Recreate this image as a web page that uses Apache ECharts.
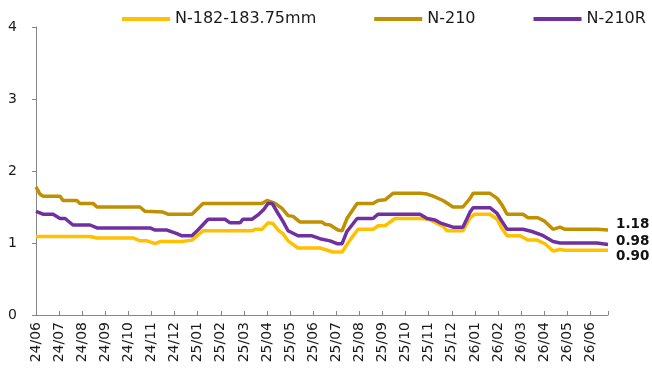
<!DOCTYPE html>
<html>
<head>
<meta charset="utf-8">
<script src="https://cdn.jsdelivr.net/npm/echarts@6/dist/echarts.min.js"></script>
<style>
  html, body { margin: 0; padding: 0; background: #fff; overflow: hidden; }
  #chart { width: 652px; height: 369px; }
</style>
</head>
<body>
<div id="chart"></div>
<script>
// Month tick labels (yy/MM), one per month starting June 2024
const tickLabels = [
  '24/06','24/07','24/08','24/09','24/10','24/11','24/12',
  '25/01','25/02','25/03','25/04','25/05','25/06','25/07','25/08','25/09','25/10','25/11','25/12',
  '26/01','26/02','26/03','26/04','26/05','26/06'
];

const seriesNames = ['N-182-183.75mm', 'N-210', 'N-210R'];
const seriesColors = ['#FFC000', '#BF9000', '#7030A0'];

// Price points: [months since 24/06, value]
const n182 = [
  [0,1.09],[2.34,1.09],[2.64,1.07],[4.20,1.07],[4.50,1.03],[4.81,1.03],[5.15,0.99],[5.37,1.02],
  [6.32,1.02],[6.75,1.04],[7.23,1.17],[9.35,1.17],[9.48,1.19],[9.78,1.19],[10.04,1.28],[10.26,1.27],
  [10.48,1.18],[10.69,1.13],[10.91,1.03],[11.34,0.93],[12.29,0.93],[12.51,0.91],[12.86,0.875],[13.25,0.875],
  [13.59,1.04],[13.94,1.19],[14.59,1.19],[14.81,1.24],[15.11,1.24],[15.54,1.34],[16.62,1.34],[17.0,1.33],
  [17.62,1.23],[17.79,1.17],[18.48,1.17],[18.79,1.35],[19.0,1.40],[19.65,1.40],[19.96,1.33],[20.17,1.20],
  [20.39,1.10],[20.95,1.10],[21.30,1.04],[21.69,1.04],[22.03,0.99],[22.38,0.89],[22.68,0.91],[22.90,0.90],
  [24.76,0.90]
];
const n210 = [
  [0,1.78],[0.17,1.68],[0.30,1.65],[1.04,1.65],[1.17,1.59],[1.77,1.59],[1.90,1.55],[2.47,1.55],
  [2.64,1.50],[4.50,1.50],[4.72,1.44],[5.50,1.43],[5.71,1.40],[6.75,1.40],[7.23,1.55],[9.78,1.55],
  [10.0,1.59],[10.35,1.55],[10.65,1.48],[10.91,1.38],[11.13,1.37],[11.43,1.29],[12.38,1.29],[12.51,1.26],
  [12.73,1.25],[13.07,1.18],[13.25,1.17],[13.46,1.34],[13.90,1.55],[14.59,1.55],[14.81,1.59],[15.11,1.60],
  [15.45,1.69],[16.62,1.69],[16.93,1.68],[17.19,1.65],[17.62,1.59],[18.05,1.50],[18.48,1.50],[18.79,1.62],
  [18.92,1.69],[19.65,1.69],[19.96,1.62],[20.17,1.53],[20.39,1.40],[21.08,1.40],[21.30,1.35],[21.73,1.35],
  [22.03,1.30],[22.38,1.19],[22.68,1.22],[22.90,1.19],[24.29,1.19],[24.76,1.18]
];
const n210r = [
  [0,1.44],[0.30,1.40],[0.74,1.40],[1.04,1.34],[1.26,1.34],[1.60,1.25],[2.34,1.25],[2.64,1.21],
  [4.94,1.21],[5.15,1.18],[5.67,1.18],[6.10,1.13],[6.32,1.10],[6.75,1.10],[7.01,1.18],[7.45,1.33],
  [8.18,1.33],[8.40,1.28],[8.83,1.28],[8.96,1.33],[9.35,1.33],[9.61,1.39],[9.87,1.47],[10.04,1.55],
  [10.22,1.55],[10.48,1.41],[10.69,1.30],[10.91,1.17],[11.34,1.10],[11.95,1.10],[12.29,1.06],[12.73,1.03],
  [13.03,0.99],[13.25,0.99],[13.46,1.16],[13.90,1.34],[14.59,1.34],[14.81,1.40],[16.62,1.40],[16.93,1.34],
  [17.27,1.32],[17.49,1.28],[18.05,1.22],[18.48,1.22],[18.79,1.43],[18.92,1.49],[19.65,1.49],[19.96,1.41],
  [20.17,1.30],[20.39,1.19],[21.08,1.19],[21.47,1.16],[21.90,1.11],[22.38,1.02],[22.68,1.00],[24.29,1.00],
  [24.76,0.98]
];

const seriesData = [n182, n210, n210r];
// Vertical nudges that keep the three closing-value labels apart
const endLabelShift = [6, -6, -3];

const FONT = 'DejaVu Sans';
const AXIS_GREY = '#868686';
const TEXT = '#1a1a1a';

const monthLabel = v => {
  const i = Math.round(v);
  return Math.abs(v - i) < 1e-6 && tickLabels[i] ? tickLabels[i] : '';
};

const chart = echarts.init(document.getElementById('chart'));

chart.setOption({
  animation: false,
  legend: {
    left: 117,
    top: 6,
    icon: 'rect',
    itemWidth: 48,
    itemHeight: 4,
    itemGap: 58,
    textStyle: { fontFamily: FONT, fontSize: 16, color: TEXT },
    data: seriesNames
  },
  grid: { left: 36, right: 44, top: 27, bottom: 54 },
  xAxis: {
    type: 'value',
    min: 0,
    max: 24.76,
    interval: 1,
    splitLine: { show: false },
    axisLabel: { rotate: 90, margin: 7, fontFamily: FONT, fontSize: 14, color: TEXT, formatter: monthLabel },
    axisLine: { show: true, lineStyle: { color: AXIS_GREY } },
    axisTick: { show: true, inside: true, length: 4, lineStyle: { color: AXIS_GREY } }
  },
  yAxis: {
    type: 'value',
    min: 0,
    max: 4,
    interval: 1,
    splitLine: { show: false },
    axisLine: { show: true, lineStyle: { color: AXIS_GREY } },
    axisTick: { show: true, length: 4, lineStyle: { color: AXIS_GREY } },
    axisLabel: { margin: 19, fontSize: 14, fontFamily: FONT, color: TEXT }
  },
  series: seriesNames.map((name, k) => ({
    name,
    type: 'line',
    data: seriesData[k],
    showSymbol: false,
    itemStyle: { color: seriesColors[k] },
    lineStyle: { width: 3.5, color: seriesColors[k] },
    endLabel: {
      show: true,
      distance: 8,
      offset: [0, endLabelShift[k]],
      fontFamily: FONT,
      fontSize: 13.5,
      fontWeight: 'bold',
      color: '#111',
      formatter: p => p.value[1].toFixed(2)
    }
  }))
});
</script>
</body>
</html>
